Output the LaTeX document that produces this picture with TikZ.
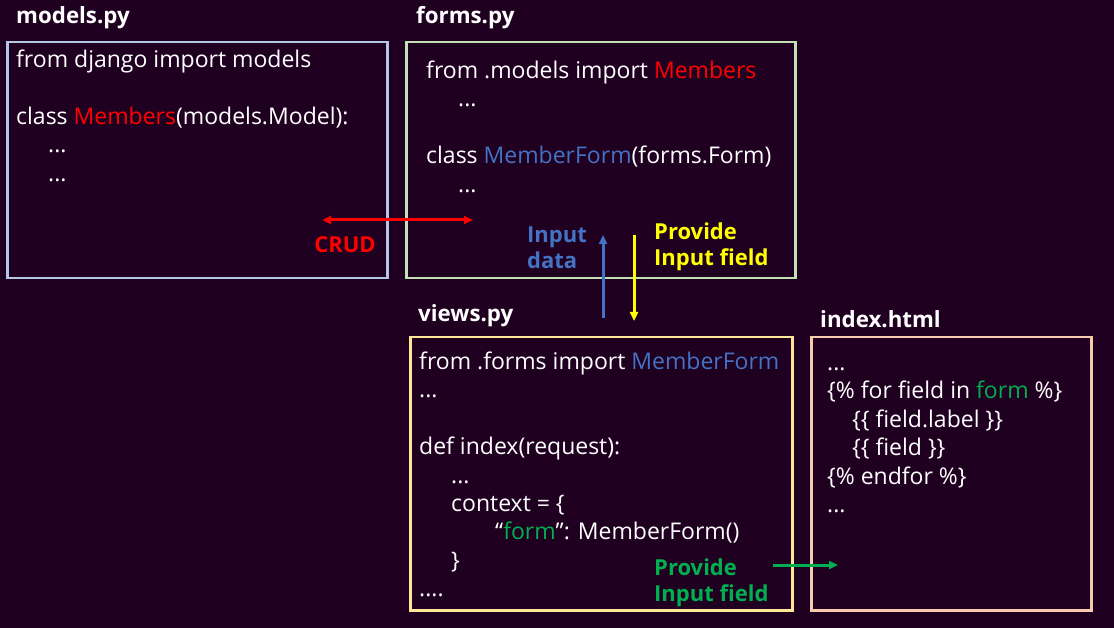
\documentclass[tikz,border=0pt]{standalone}
\usepackage{fontspec}
\setmainfont{Open Sans}
\usetikzlibrary{arrows.meta}
\definecolor{Night}{HTML}{1F0020}
\definecolor{ModelEdge}{HTML}{B4C7E7}
\definecolor{FormEdge}{HTML}{C5E0B4}
\definecolor{ViewEdge}{HTML}{FFE699}
\definecolor{PageEdge}{HTML}{F8CBAD}
\definecolor{CodeRed}{HTML}{FF0000}
\definecolor{CodeBlue}{HTML}{4472C4}
\definecolor{CodeYellow}{HTML}{FFFF00}
\definecolor{CodeGreen}{HTML}{00B050}
\tikzset{
  filebox/.style={draw=#1,line width=2.5pt,anchor=north west,inner sep=0pt},
  filetitle/.style={anchor=base west,inner sep=0pt,text=white,font=\fontsize{22.3}{26}\selectfont\bfseries},
  code/.style={anchor=north west,inner sep=0pt,align=left,text=white,font=\fontsize{23}{28.4}\selectfont},
  tag/.style={anchor=north west,inner sep=0pt,align=left,text=#1,font=\fontsize{22}{26.5}\selectfont\bfseries},
  flow/.style={-{Triangle[length=9pt,width=8pt]},draw=#1,line width=3pt},
  bothflow/.style={{Triangle[length=9pt,width=8pt]}-{Triangle[length=9pt,width=8pt]},draw=#1,line width=3pt}
}
\newcommand{\ind}{\hspace*{32pt}}

\begin{document}
\begin{tikzpicture}[x=1pt,y=-1pt]
  \fill[Night] (0,0) rectangle (1114,628);
  \useasboundingbox (0,0) rectangle (1114,628);

  % file boxes
  \node[filebox=ModelEdge,minimum width=380pt,minimum height=236pt] (models) at (6,41) {};
  \node[filebox=FormEdge,minimum width=389pt,minimum height=236pt] (forms) at (405,41) {};
  \node[filebox=ViewEdge,minimum width=382pt,minimum height=273pt] (views) at (409,336) {};
  \node[filebox=PageEdge,minimum width=280pt,minimum height=273pt] (page) at (810,336) {};

  \node[filetitle] (modelstitle) at (16,24) {models.py};
  \node[filetitle] (formstitle) at (416,24) {forms.py};
  \node[filetitle] (viewstitle) at (418,322) {views.py};
  \node[filetitle] (pagetitle) at (820,327) {index.html};

  % code inside the boxes
  \node[code] (modelscode) at (16,47.4) {\strut from django import models\\ \mbox{}\\
    class \textcolor{CodeRed}{Members}(models.Model):\\ \ind...\\ \ind...};
  \node[code] (formscode) at (426,58.4) {\strut from .models import \textcolor{CodeRed}{Members}\\ \ind...\\ \mbox{}\\
    class \textcolor{CodeBlue}{MemberForm}(forms.Form)\\ \ind...};
  \node[code] (viewscode) at (419,349.4) {\strut from .forms import \textcolor{CodeBlue}{MemberForm}\\ ...\\ \mbox{}\\
    def index(request):\\ \ind...\\ \ind context = \{\\ \hspace*{76pt}“\textcolor{CodeGreen}{form}”: MemberForm()\\
    \ind\}\\ ....};
  \node[code] (pagecode) at (827,350.4) {\strut ...\\ \{\% for field in \textcolor{CodeGreen}{form} \%\}\\
    \hspace*{25pt}\{\{ field.label \}\}\\ \hspace*{25pt}\{\{ field \}\}\\ \{\% endfor \%\}\\ ...};

  % arrows and their labels
  \coordinate (crudL) at (322,220);
  \coordinate (crudR) at (473,220);
  \draw[bothflow=CodeRed] (crudL) -- (crudR);
  \node[text=CodeRed,font=\fontsize{22}{26}\selectfont\bfseries,inner sep=0pt] (crud) at (345,245) {CRUD};

  \coordinate (inputlow) at (603,318);
  \coordinate (inputhigh) at (603,235);
  \draw[flow=CodeBlue] (inputlow) -- (inputhigh);
  \node[tag=CodeBlue] (inputtag) at (527,223.5) {\strut Input\\data};

  \coordinate (fieldhigh) at (634,235);
  \coordinate (fieldlow) at (634,321);
  \draw[flow=CodeYellow] (fieldhigh) -- (fieldlow);
  \node[tag=CodeYellow] (fieldtag) at (654,220.5) {\strut Provide\\Input field};

  \coordinate (pagefrom) at (773,565);
  \coordinate (pageto) at (838,565);
  \draw[flow=CodeGreen] (pagefrom) -- (pageto);
  \node[tag=CodeGreen] (pagetag) at (654,556.5) {\strut Provide\\Input field};
\end{tikzpicture}
\end{document}
